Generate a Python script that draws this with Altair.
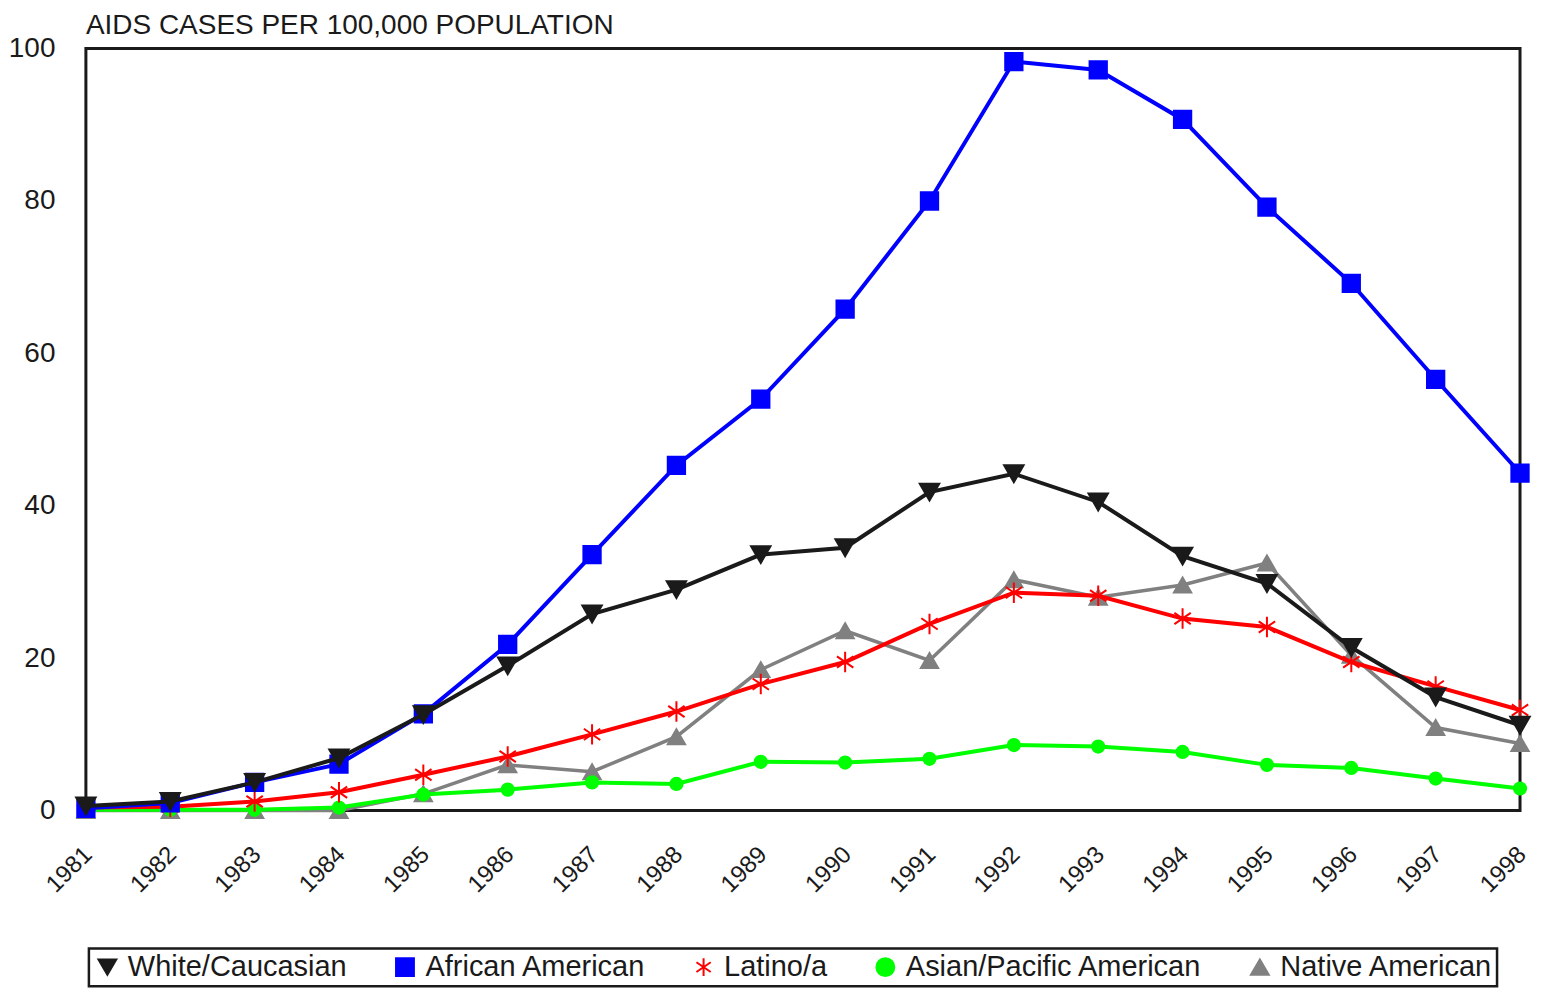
import altair as alt
import pandas as pd

years = list(range(1981, 1999))
series_names = ["White/Caucasian", "African American", "Latino/a",
                "Asian/Pacific American", "Native American"]

white = [0.6, 1.2, 3.7, 6.9, 12.6, 19.0, 25.8, 29.0, 33.6, 34.5, 41.8, 44.2, 40.5, 33.4, 29.8, 21.4, 14.9, 11.2]
african = [0.3, 1.0, 3.7, 6.1, 12.7, 21.8, 33.6, 45.3, 54.0, 65.8, 80.0, 98.3, 97.2, 90.7, 79.2, 69.2, 56.6, 44.3]
latino = [0.4, 0.5, 1.2, 2.4, 4.7, 7.1, 10.0, 13.0, 16.6, 19.5, 24.5, 28.6, 28.2, 25.2, 24.1, 19.5, 16.3, 13.2]
asian = [0.1, 0.1, 0.1, 0.4, 2.1, 2.75, 3.7, 3.5, 6.4, 6.3, 6.8, 8.6, 8.4, 7.7, 6.0, 5.6, 4.2, 2.9]
native = [0.0, 0.0, 0.0, 0.0, 2.2, 6.0, 5.1, 9.7, 18.5, 23.6, 19.7, 30.3, 28.0, 29.6, 32.5, 20.4, 10.9, 8.8]

y_ticks = [0, 20, 40, 60, 80, 100]

colors = ["#1a1a1a", "#0000ff", "#ff0000", "#00ff00", "#808080"]
ASTERISK = "M0,-1L0,1M-0.8,-0.55L0.8,0.55M-0.8,0.55L0.8,-0.55"
shapes = ["triangle-down", "square", ASTERISK, "circle", "triangle-up"]
marker_sizes = {"White/Caucasian": 380, "African American": 300, "Latino/a": 420,
                "Asian/Pacific American": 150, "Native American": 300}
line_widths = {"White/Caucasian": 4, "African American": 4, "Latino/a": 4,
               "Asian/Pacific American": 4, "Native American": 3.5}

rows = []
for name, vals in zip(series_names, [white, african, latino, asian, native]):
    for yr, v in zip(years, vals):
        rows.append({"year": yr, "rate": v, "series": name})
df = pd.DataFrame(rows)

FONT = "Liberation Sans"
TXT = "#1a1a1a"

legend = alt.Legend(
    title=None, orient="none", legendX=3, legendY=901, direction="horizontal",
    columns=5, columnPadding=43, labelFontSize=29, labelFont=FONT, labelColor=TXT,
    labelOffset=6, labelLimit=0, symbolSize=320, symbolStrokeWidth=2, padding=4,
    strokeColor="#1a1a1a",
)

x = alt.X("year:Q",
          scale=alt.Scale(domain=[1981, 1998], nice=False, zero=False),
          axis=alt.Axis(values=years, format="d", title=None, labelAngle=-45,
                        labelAlign="right", labelBaseline="middle",
                        labelPadding=40, labelOffset=2, labelFontSize=24))
y = alt.Y("rate:Q",
          scale=alt.Scale(domain=[0, 100], nice=False),
          axis=alt.Axis(values=y_ticks, title=None, labelPadding=31, labelFontSize=28))
color = alt.Color("series:N", scale=alt.Scale(domain=series_names, range=colors), legend=legend)
shape = alt.Shape("series:N", scale=alt.Scale(domain=series_names, range=shapes), legend=legend)
stroke = alt.Stroke("series:N", scale=alt.Scale(domain=series_names, range=colors), legend=legend)

base = alt.Chart(df)
layers = []
for name in ["Native American", "Asian/Pacific American", "Latino/a", "African American", "White/Caucasian"]:
    flt = alt.datum.series == name
    line = base.mark_line(strokeWidth=line_widths[name], clip=False).encode(
        x=x, y=y, color=color).transform_filter(flt)
    pts = base.mark_point(filled=True, opacity=1, strokeWidth=2, clip=False).encode(
        x=x, y=y, color=color, shape=shape, stroke=stroke,
        size=alt.value(marker_sizes[name])).transform_filter(flt)
    layers += [line, pts]

chart = alt.layer(*layers).properties(
    width=1436, height=763,
    padding={"top": 3, "left": 0, "right": 0, "bottom": 0},
    title=alt.TitleParams("AIDS CASES PER 100,000 POPULATION", anchor="start", frame="group",
                          fontSize=28, font=FONT, fontWeight="normal", color=TXT, offset=-5),
).configure_view(
    stroke="#1a1a1a", strokeWidth=3
).configure_axis(
    domain=False, ticks=False, grid=False, labelFont=FONT, labelColor=TXT
).configure_legend(
    strokeWidth=2.5
)

chart.save("out.html", embed_options={"renderer": "svg", "actions": False})
